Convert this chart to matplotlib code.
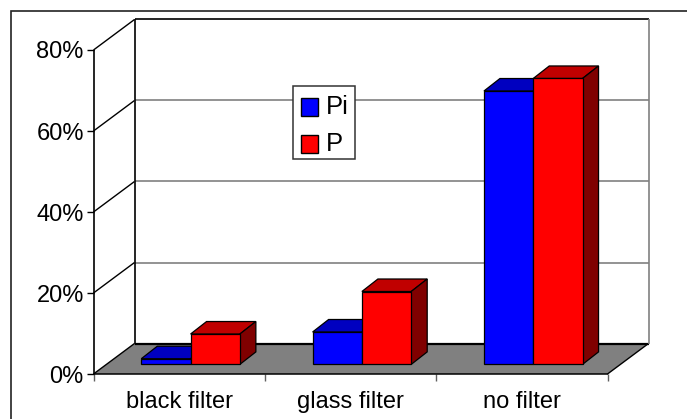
import matplotlib
matplotlib.use("Agg")
import matplotlib.pyplot as plt
from matplotlib.patches import Polygon, Rectangle

plt.rcParams['font.family'] = ['Liberation Sans', 'DejaVu Sans']

categories = ['black filter', 'glass filter', 'no filter']
series_names = ['Pi', 'P']
pi_values = [1.4, 8.0, 67.5]
p_values = [7.5, 18.0, 70.6]
y_ticks = [0, 20, 40, 60, 80]
y_tick_labels = ['0%', '20%', '40%', '60%', '80%']
front_colors = ['#0000ff', '#ff0000']
top_colors = ['#0000c0', '#c00000']
side_colors = ['#000080', '#800000']

W, H = 687, 419
fig = plt.figure(figsize=(W / 100, H / 100), dpi=100, facecolor='white')
L, R, T, B = 93.5, 607.5, 50, 374
ax = fig.add_axes([L / W, 1 - B / H, (R - L) / W, (B - T) / H])
ax.set_xlim(0, 3)
ax.set_ylim(0, 80)
ax.set_facecolor('none')
for s in ax.spines.values():
    s.set_visible(False)

px = 3 / (R - L)        # data units per pixel, x
py = 80 / (B - T)       # data units per pixel, y
DX, DY = 41 * px, 30.5 * py    # full wall depth


def poly(pts, **kw):
    kw.setdefault('clip_on', False)
    p = Polygon(pts, closed=True, **kw)
    ax.add_patch(p)
    return p


def line(xs, ys, color='black', lw=1.0, z=2):
    ax.plot(xs, ys, color=color, lw=lw, clip_on=False, zorder=z, solid_capstyle='butt')


# outer frame: only top and left edges fall inside the picture
fig.add_artist(Rectangle((10.5 / W, 1 - 440 / H), 720 / W, 429 / H, fill=False,
                         edgecolor='#222222', lw=1.2, transform=fig.transFigure))

# floor
poly([(0, 0), (3, 0), (3 + DX, DY), (DX, DY)], facecolor='#808080', edgecolor='none', zorder=1)
line([DX, 3 + DX], [DY, DY], lw=1.6)
line([0, 3], [0, 0], lw=1.1)
line([3, 3 + DX], [0, DY], lw=1.0)

# walls and gridlines
for v in y_ticks:
    line([0, DX], [v, v + DY], lw=1.0)
    if 0 < v < 80:
        line([DX, 3 + DX], [v + DY, v + DY], color='#808080', lw=1.2)
line([DX, 3 + DX], [80 + DY, 80 + DY], lw=1.2)
line([0, 0], [0, 80], lw=1.2)
line([DX, DX], [DY, 80 + DY], lw=1.2)
line([3 + DX, 3 + DX], [DY, 80 + DY], color='#808080', lw=1.2)

# bars
bar_w = 49.3 * px
base_y = 9.6 * py
ddx, ddy = 16 * px, 12.5 * py
ek = dict(edgecolor='black', lw=0.9, joinstyle='miter')
for i in range(len(categories)):
    x0 = i + 0.5 - bar_w + 11.4 * px
    for j, vals in enumerate([pi_values, p_values]):
        xl = x0 + j * bar_w
        xr = xl + bar_w
        top = base_y + vals[i]
        z = 5 + j
        poly([(xl, top), (xr, top), (xr + ddx, top + ddy), (xl + ddx, top + ddy)],
             facecolor=top_colors[j], zorder=z, **ek)
        poly([(xr, base_y), (xr + ddx, base_y + ddy), (xr + ddx, top + ddy), (xr, top)],
             facecolor=side_colors[j], zorder=z, **ek)
        poly([(xl, base_y), (xr, base_y), (xr, top), (xl, top)],
             facecolor=front_colors[j], zorder=z, **ek)

# axes ticks and labels
ax.set_yticks(y_ticks)
ax.set_yticklabels(y_tick_labels, fontsize=17, color='black')
ax.tick_params(axis='y', length=5, width=1, pad=2)
ax.set_xticks([0, 1, 2, 3])
ax.set_xticklabels([])
ax.tick_params(axis='x', which='major', length=5, width=1, color='#606060')
ax.set_xticks([0.5, 1.5, 2.5], minor=True)
ax.set_xticklabels(categories, minor=True, fontsize=17)
ax.tick_params(axis='x', which='minor', length=0, pad=12)

# legend
fig.add_artist(Rectangle((292.5 / W, 1 - 158.5 / H), 62 / W, 73 / H, facecolor='white',
                         edgecolor='#333333', lw=1.1, transform=fig.transFigure, zorder=10))
for j, (name, c, sy, ty) in enumerate(zip(series_names, front_colors, [116, 153], [107, 143.5])):
    fig.add_artist(Rectangle((300.5 / W, 1 - sy / H), 17.5 / W, 18 / H, facecolor=c,
                             edgecolor='black', lw=1.0, transform=fig.transFigure, zorder=11))
    fig.text(326 / W, 1 - ty / H, name, fontsize=18.4, va='center', ha='left', zorder=11)

fig.savefig('out.png', dpi=100)
